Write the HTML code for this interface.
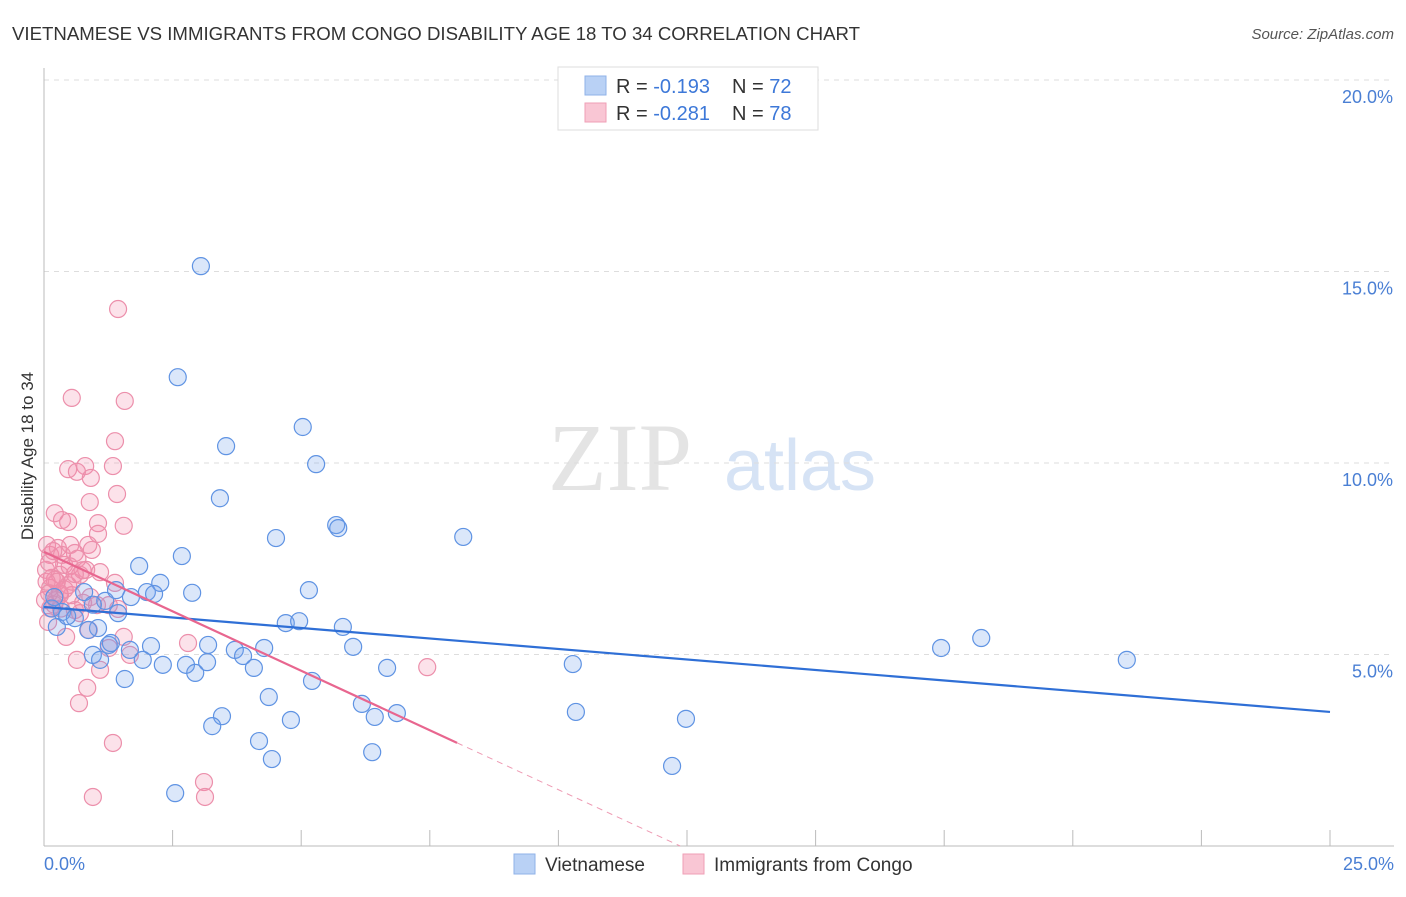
<!DOCTYPE html>
<html><head><meta charset="utf-8"><style>
body{margin:0;background:#fff;font-family:"Liberation Sans",sans-serif;}
</style></head><body>
<svg id="chart" width="1406" height="892" xmlns="http://www.w3.org/2000/svg">
<text x="12" y="40" font-size="18" fill="#333" textLength="848" lengthAdjust="spacingAndGlyphs">VIETNAMESE VS IMMIGRANTS FROM CONGO DISABILITY AGE 18 TO 34 CORRELATION CHART</text>
<text x="1394" y="39" font-size="15" fill="#555" font-style="italic" text-anchor="end">Source: ZipAtlas.com</text>
<text x="620" y="490" font-size="96" fill="#e4e4e4" font-family="Liberation Serif,serif" text-anchor="middle">ZIP</text>
<text x="800" y="490" font-size="72" fill="#d6e3f5" text-anchor="middle">atlas</text>
<g id="grid"></g>
<g id="axes"></g>
<g id="pts"></g>
<g id="lines"></g>
<text transform="translate(33,456) rotate(-90)" font-size="17" fill="#333" text-anchor="middle">Disability Age 18 to 34</text>
<text x="44" y="870" font-size="18" fill="#4a7fd4">0.0%</text>
<text x="1394" y="870" font-size="18" fill="#4a7fd4" text-anchor="end">25.0%</text>
<g>
<rect x="558" y="67" width="260" height="63" fill="#fff" stroke="#ddd"/>
<rect x="585" y="76" width="21" height="19" fill="#b9d1f5" stroke="#8fb2e8"/>
<rect x="585" y="103" width="21" height="19" fill="#f9c6d4" stroke="#ef9fb6"/>
<text x="616" y="93" font-size="20" fill="#333">R = <tspan fill="#3d78d8">-0.193</tspan><tspan x="732">N = </tspan><tspan fill="#3d78d8">72</tspan></text>
<text x="616" y="120" font-size="20" fill="#333">R = <tspan fill="#3d78d8">-0.281</tspan><tspan x="732">N = </tspan><tspan fill="#3d78d8">78</tspan></text>
</g>
<g>
<rect x="514" y="854" width="21" height="20" fill="#b9d1f5" stroke="#8fb2e8"/>
<text x="545" y="871" font-size="19" fill="#333">Vietnamese</text>
<rect x="683" y="854" width="21" height="20" fill="#f9c6d4" stroke="#ef9fb6"/>
<text x="714" y="871" font-size="19" fill="#333">Immigrants from Congo</text>
</g>
</svg>
<script>
const yTicks=[5,10,15,20];
const yTickLabels=["5.0%","10.0%","15.0%","20.0%"];
const blueX=[3.05,2.60,3.54,5.03,5.29,3.42,4.51,5.68,5.72,8.15,2.68,1.85,2.26,5.15,2.88,2.00,2.14,1.69,1.40,1.19,1.44,0.78,0.35,0.25,0.60,1.05,0.86,4.70,4.96,5.81,6.01,3.19,4.28,3.71,3.87,2.08,1.67,1.26,0.95,1.09,1.92,2.31,2.76,2.94,3.17,4.08,6.67,10.28,17.44,18.22,21.05,1.57,5.21,4.37,6.18,3.46,3.27,4.80,6.43,6.86,10.34,12.48,4.18,4.43,6.38,12.21,2.55,0.15,0.45,0.95,1.3,0.2];
const blueY=[15.14,12.24,10.44,10.94,9.97,9.08,8.04,8.38,8.30,8.07,7.57,7.31,6.87,6.68,6.61,6.63,6.58,6.50,6.68,6.40,6.08,6.63,6.11,5.72,5.95,5.69,5.64,5.82,5.87,5.72,5.20,5.25,5.17,5.12,4.96,5.22,5.12,5.25,4.99,4.86,4.86,4.73,4.73,4.52,4.80,4.65,4.65,4.75,5.17,5.43,4.86,4.36,4.31,3.89,3.71,3.39,3.13,3.29,3.37,3.47,3.50,3.32,2.74,2.27,2.45,2.09,1.38,6.2,6.0,6.3,5.3,6.5];
const pinkX=[1.44,0.54,1.57,1.38,0.47,0.80,0.64,0.91,1.34,1.42,0.89,0.21,0.35,0.47,1.05,1.55,1.05,0.27,0.51,0.86,0.60,0.93,0.12,0.04,0.31,0.70,0.12,0.31,0.82,1.09,1.38,0.39,0.54,0.76,0.60,0.12,0.08,1.03,1.26,1.44,0.70,0.87,0.43,1.26,1.55,1.67,2.80,0.64,1.09,7.45,0.84,0.68,1.34,3.11,3.13,0.95,0.06,0.21,0.47,0.02,0.23,0.35,0.15,0.3,0.5,0.1,0.25,0.4,0.65,0.2,0.05,0.55,0.75,0.9,0.18,0.33,0.1,0.6];
const pinkY=[14.02,11.70,11.62,10.57,9.84,9.92,9.77,9.61,9.92,9.19,8.98,8.69,8.51,8.46,8.43,8.36,8.15,7.78,7.86,7.86,7.65,7.73,7.60,7.21,7.08,7.08,6.74,6.55,7.21,7.15,6.87,7.34,6.55,6.35,6.16,6.21,5.85,6.29,6.29,6.19,6.08,5.64,5.46,5.17,5.46,4.99,5.30,4.86,4.60,4.67,4.13,3.73,2.69,1.67,1.28,1.28,7.86,6.95,6.81,6.42,6.42,7.60,7.0,6.6,7.3,7.4,6.9,6.7,7.5,6.3,6.9,6.9,7.2,6.5,7.7,6.2,6.6,7.1];
const blueFit=[6.24,3.50];
const pinkFit=[7.68,-0.621];
const pinkSolidEnd=8.03;
const X=v=>44+v/25*1286, Y=v=>846-v/5*191.5;
const NS="http://www.w3.org/2000/svg";
function mk(t,a,p){const e=document.createElementNS(NS,t);for(const k in a)e.setAttribute(k,a[k]);document.getElementById(p).appendChild(e);return e;}
yTicks.forEach((t,i)=>{
 const g=mk('line',{x1:44,x2:1394,y1:Y(t),y2:Y(t),stroke:'#ddd','stroke-dasharray':'5,5'},'grid');
 
 
 const l=mk('text',{x:1393,y:Y(t)+23,'font-size':18,fill:'#4a7fd4','text-anchor':'end'},'grid');
 l.textContent=yTickLabels[i];
 
 
});
mk('line',{x1:44,x2:44,y1:68,y2:846,stroke:'#bbb'},'axes');
mk('line',{x1:44,x2:1394,y1:846,y2:846,stroke:'#bbb'},'axes');
for(let i=0;i<=10;i++){const t=mk('line',{x1:X(i*2.5),x2:X(i*2.5),y1:830,y2:846,stroke:'#bbb'},'axes');
 
 }
pinkX.forEach((v,i)=>{const c=mk('circle',{cx:X(v),cy:Y(pinkY[i]),r:8.5,fill:'rgba(242,140,170,0.25)',stroke:'#ec8fab','stroke-width':1.2},'pts');
 
 });
blueX.forEach((v,i)=>{const c=mk('circle',{cx:X(v),cy:Y(blueY[i]),r:8.5,fill:'rgba(110,160,235,0.25)',stroke:'#5f93e3','stroke-width':1.2},'pts');
 
 });
const bl=mk('line',{x1:X(0),y1:Y(blueFit[0]),x2:X(25),y2:Y(blueFit[1]),stroke:'#2f6fd6','stroke-width':2.2},'lines');


const pz=-pinkFit[0]/pinkFit[1];
const pl=mk('line',{x1:X(0),y1:Y(pinkFit[0]),x2:X(pinkSolidEnd),y2:Y(pinkFit[0]+pinkFit[1]*pinkSolidEnd),stroke:'#e8668f','stroke-width':2.2},'lines');


const pd=mk('line',{x1:X(pinkSolidEnd),y1:Y(pinkFit[0]+pinkFit[1]*pinkSolidEnd),x2:X(pz),y2:Y(0),stroke:'#ee9ab3','stroke-width':1,'stroke-dasharray':'6,5'},'lines');


</script>
</body></html>
